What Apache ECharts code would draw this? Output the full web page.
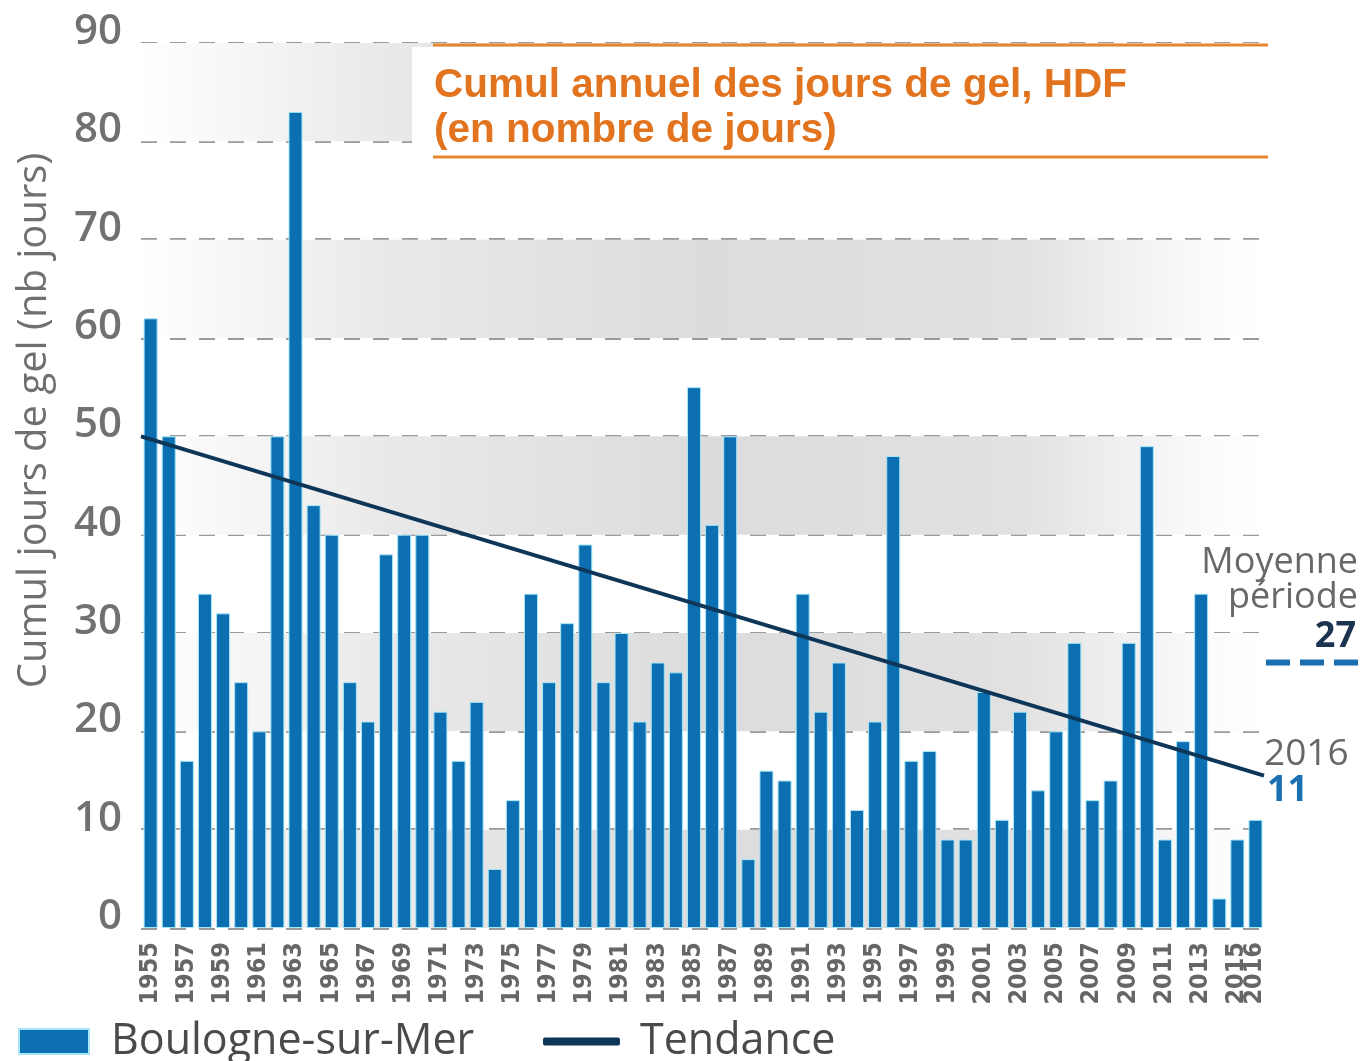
<!DOCTYPE html>
<html>
<head>
<meta charset="utf-8">
<script src="https://cdn.jsdelivr.net/npm/echarts@6/dist/echarts.min.js"></script>
<style>
html, body { margin: 0; padding: 0; background: #fff; }
#main { width: 1362px; height: 1061px; }
</style>
</head>
<body>
<div id="main"></div>
<script>
// données
var annees = ['1955','1956','1957','1958','1959','1960','1961','1962','1963','1964',
    '1965','1966','1967','1968','1969','1970','1971','1972','1973','1974',
    '1975','1976','1977','1978','1979','1980','1981','1982','1983','1984',
    '1985','1986','1987','1988','1989','1990','1991','1992','1993','1994',
    '1995','1996','1997','1998','1999','2000','2001','2002','2003','2004',
    '2005','2006','2007','2008','2009','2010','2011','2012','2013','2014',
    '2015','2016'];
var joursGel = [62, 50, 17, 34, 32, 25, 20, 50, 83, 43,
    40, 25, 21, 38, 40, 40, 22, 17, 23, 6,
    13, 34, 25, 31, 39, 25, 30, 21, 27, 26,
    55, 41, 50, 7, 16, 15, 34, 22, 27, 12,
    21, 48, 17, 18, 9, 9, 24, 11, 22, 14,
    20, 29, 13, 15, 29, 49, 9, 19, 34, 3,
    9, 11];
var tendance = [[1954.5, 50], [2016.5, 15.5]];   // extrémités de la droite de tendance
var moyenne = 27;
var bandes = [[0, 10], [20, 30], [40, 50], [60, 70], [80, 90]];

var myChart = echarts.init(document.getElementById('main'));

var fondBande = {
    type: 'linear', x: 0, y: 0, x2: 1, y2: 0,
    colorStops: [
        { offset: 0, color: '#ffffff' },
        { offset: 0.22, color: '#e9e9ea' },
        { offset: 0.5, color: '#dcdcdd' },
        { offset: 0.78, color: '#e1e1e2' },
        { offset: 0.94, color: '#fafafa' },
        { offset: 1, color: '#ffffff' }
    ]
};

var policeEtroite = "'DejaVu Sans Condensed', 'Roboto', sans-serif";
var gris = '#686868';
var dernier = annees.length - 1;

var labelAnnee = {
    rotate: 90,
    margin: 14,
    hideOverlap: false,
    fontFamily: policeEtroite,
    fontWeight: 'bold',
    fontSize: 25,
    color: '#666666'
};

option = {
    animation: false,
    grid: [
        { left: 141, right: 98, top: 43, bottom: 133 },
        { left: 1266, right: 0, top: 43, bottom: 133 }   // petit repère pour le trait de moyenne
    ],
    legend: [
        {
            data: ['Boulogne-sur-Mer'],
            left: 13, top: 1015,
            icon: 'rect',
            itemWidth: 70, itemHeight: 25,
            textStyle: { fontFamily: 'Open Sans', fontSize: 43, color: '#4a4a4a', padding: [0, 0, 0, 17] }
        },
        {
            data: ['Tendance'],
            left: 538, top: 1015,
            icon: 'roundRect',
            itemWidth: 77, itemHeight: 8,
            textStyle: { fontFamily: 'Open Sans', fontSize: 43, color: '#4a4a4a', padding: [0, 0, 0, 15] }
        }
    ],
    xAxis: [
        {
            type: 'category',
            data: annees,
            gridIndex: 0,
            axisLine: { show: false },
            axisTick: { show: false },
            axisLabel: Object.assign({}, labelAnnee, {
                showMaxLabel: true,
                interval: function (i) { return i % 2 === 0 && i !== dernier; }
            })
        },
        { type: 'value', gridIndex: 0, min: 1954.5, max: 2016.5, show: false },
        { type: 'value', gridIndex: 1, min: 0, max: 1, show: false },
        {
            // seconde échelle des années : seulement 2016, collée à 2015
            type: 'category',
            data: annees,
            gridIndex: 0,
            position: 'bottom',
            offset: 0,
            axisLine: { show: false },
            axisTick: { show: false },
            splitLine: { show: false },
            axisLabel: Object.assign({}, labelAnnee, {
                showMinLabel: false,
                showMaxLabel: true,
                interval: function (i) { return i === dernier; }
            })
        }
    ],
    yAxis: [
        {
            type: 'value',
            gridIndex: 0,
            min: 0, max: 90, interval: 10,
            name: 'Cumul jours de gel (nb jours)',
            nameLocation: 'middle',
            nameGap: 86,
            nameRotate: 90,
            nameTextStyle: { fontFamily: 'Open Sans', fontSize: 40, color: '#707070', padding: [0, 0, 0, 130] },
            axisLine: { show: false },
            axisTick: { show: false },
            axisLabel: {
                margin: 19,
                verticalAlign: 'bottom',
                lineHeight: 22,
                fontFamily: 'Open Sans',
                fontWeight: 600,
                fontSize: 42,
                color: '#717171'
            },
            splitLine: { lineStyle: { color: '#9a9a9a', width: 3, type: [16, 13] } }
        },
        { type: 'value', gridIndex: 1, min: 0, max: 90, show: false }
    ],
    series: [
        {
            // bandes grises du fond
            name: 'fond',
            type: 'bar',
            xAxisIndex: 0, yAxisIndex: 0,
            data: [],
            z: -1,
            silent: true,
            markArea: {
                silent: true,
                itemStyle: { color: fondBande },
                data: bandes.map(function (b) { return [{ yAxis: b[0] }, { yAxis: b[1] }]; })
            }
        },
        {
            name: 'Boulogne-sur-Mer',
            type: 'bar',
            xAxisIndex: 0, yAxisIndex: 0,
            data: joursGel,
            barWidth: 14,
            itemStyle: { color: '#0b6fb2', borderColor: '#a6e6f6', borderWidth: 1 }
        },
        {
            name: 'Tendance',
            type: 'line',
            xAxisIndex: 1, yAxisIndex: 0,
            data: tendance,
            symbol: 'none',
            lineStyle: { color: '#0e3658', width: 4 },
            itemStyle: { color: '#0e3658' },
            z: 3
        },
        {
            name: 'Moyenne',
            type: 'line',
            xAxisIndex: 2, yAxisIndex: 1,
            data: [[0, moyenne], [1, moyenne]],
            symbol: 'none',
            lineStyle: { color: '#1a6fb0', width: 6, type: [24, 10] }
        }
    ],
    graphic: [
        // cadre du titre
        { type: 'rect', z: 10, shape: { x: 412, y: 47, width: 870, height: 104 }, style: { fill: '#ffffff' } },
        { type: 'line', z: 11, shape: { x1: 433, y1: 45, x2: 1268, y2: 45 }, style: { stroke: '#e8862c', lineWidth: 3 } },
        { type: 'line', z: 11, shape: { x1: 433, y1: 157, x2: 1268, y2: 157 }, style: { stroke: '#e8862c', lineWidth: 3 } },
        {
            type: 'text', z: 11, left: 434, top: 63,
            style: {
                text: 'Cumul annuel des jours de gel, HDF\n(en nombre de jours)',
                fontFamily: 'Liberation Sans', fontWeight: 'bold', fontSize: 40.5, lineHeight: 45,
                fill: '#e2741f'
            }
        },
        // annotations à droite
        { type: 'text', z: 11, right: 4, top: 545, style: { text: 'Moyenne', fontFamily: 'Open Sans', fontSize: 36, fill: gris } },
        { type: 'text', z: 11, right: 4, top: 580, style: { text: 'période', fontFamily: 'Open Sans', fontSize: 36, fill: gris } },
        {
            type: 'text', z: 11, right: 6, top: 619,
            style: { text: String(moyenne), fontFamily: 'Open Sans', fontWeight: 'bold', fontSize: 36, fill: '#1b3550' }
        },
        {
            type: 'text', z: 11, left: 1264, top: 736,
            style: { text: annees[dernier], fontFamily: 'Open Sans', fontSize: 37, fill: gris }
        },
        {
            type: 'text', z: 11, left: 1267, top: 773,
            style: { text: String(joursGel[dernier]), fontFamily: 'Open Sans', fontWeight: 'bold', fontSize: 36, fill: '#1a70b0' }
        }
    ]
};

myChart.setOption(option);
</script>
</body>
</html>
